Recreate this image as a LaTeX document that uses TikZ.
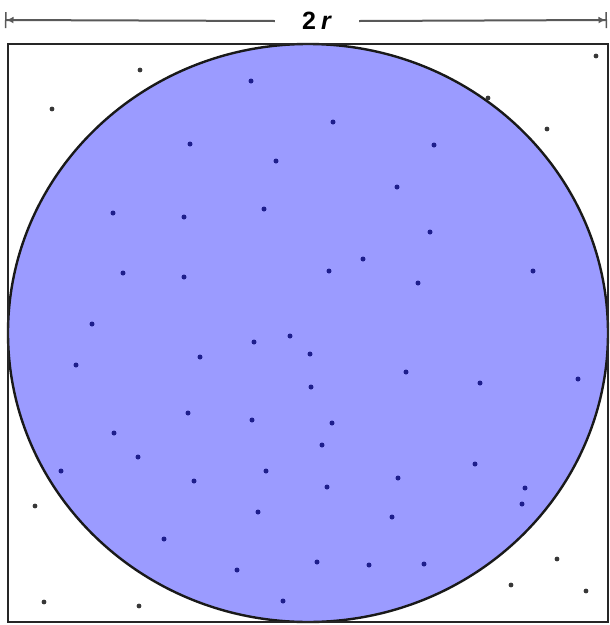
\documentclass[tikz,border=0pt]{standalone}
\usepackage{fontspec}
\setmainfont{Liberation Sans}
\usetikzlibrary{arrows.meta}
\definecolor{diskblue}{RGB}{155,155,255}
\definecolor{hitblue}{RGB}{30,30,140}
\definecolor{missgray}{RGB}{55,55,55}

\begin{document}
\begin{tikzpicture}[x=1pt,y=-1pt,
    hit/.style={fill=hitblue},
    miss/.style={fill=missgray},
    dimline/.style={line width=2pt, draw=black!65}]
    \useasboundingbox (0,0) rectangle (610,625);
    % square and inscribed disc
    \fill[white] (8,44) rectangle (608,622);
    \draw[fill=diskblue, line width=2.4pt, draw=black!90] (308,333) ellipse [x radius=300, y radius=289];
    % random points
    \foreach \px/\py in {251/81,190/144,276/161,113/213,184/217,264/209,333/122,434/145,
        397/187,430/232,123/273,184/277,92/324,76/365,200/357,254/342,290/336,188/413,
        252/420,114/433,363/259,329/271,418/283,533/271,310/354,406/372,311/387,480/383,
        578/379,332/423,138/457,61/471,194/481,266/471,258/512,164/539,237/570,283/601,
        322/445,475/464,398/478,327/487,525/488,522/504,392/517,317/562,369/565,424/564}
      \fill[hit] (\px,\py) circle (2.5);
    \foreach \px/\py in {140/70,52/109,596/56,488/98,547/129,35/506,44/602,139/606,
        557/559,511/585,586/591}
      \fill[miss] (\px,\py) circle (2.4);
    \draw[line width=2.8pt, draw=black!85] (8,44) rectangle (608,622);
    % dimension
    \coordinate (dimL) at (5,20);
    \coordinate (dimR) at (607,20);
    \node[font=\fontsize{25}{25}\selectfont\bfseries, inner xsep=27pt] (len) at (317,21) {2\hspace{5pt}\textit{r}};
    \draw[dimline, {Bar[width=16pt,line width=1.5pt]Latex[length=7pt,width=7pt]}-] (dimL) -- (len.west);
    \draw[dimline, -{Latex[length=7pt,width=7pt]Bar[width=16pt,line width=1.5pt]}] (len.east) -- (dimR);
\end{tikzpicture}
\end{document}
